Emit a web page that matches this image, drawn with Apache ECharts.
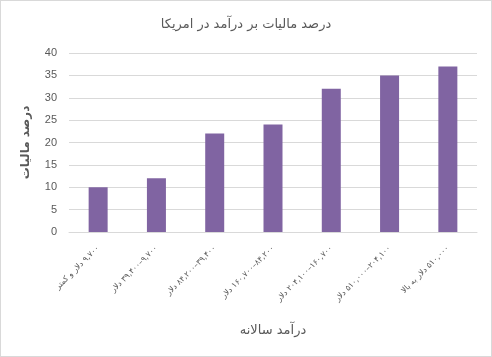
<!DOCTYPE html>
<html><head><meta charset="utf-8">
<script src="https://cdn.jsdelivr.net/npm/echarts@6/dist/echarts.min.js"></script>
<style>html,body{margin:0;padding:0;background:#fff}#c{width:492px;height:357px;box-sizing:border-box;border:1px solid #d9d9d9}</style>
</head><body><div id="c"></div>
<script>
const titleText = 'درصد مالیات بر درآمد در امریکا';
const yAxisName = 'درصد مالیات';
const xAxisName = 'درآمد سالانه';
const categories = [
  '۹,۷۰۰ دلار و کمتر',
  '۹,۷۰۰–۳۹,۴۰۰ دلار',
  '۳۹,۴۰۰–۸۴,۲۰۰ دلار',
  '۸۴,۲۰۰–۱۶۰,۷۰۰ دلار',
  '۱۶۰,۷۰۰–۲۰۴,۱۰۰ دلار',
  '۲۰۴,۱۰۰–۵۱۰,۰۰۰ دلار',
  '۵۱۰,۰۰۰ دلار به بالا'
];
const values = [10, 12, 22, 24, 32, 35, 37];

const rtl = s => '\u202B' + s + '\u202C';

const chart = echarts.init(document.getElementById('c'), null, {renderer: 'canvas'});
chart.setOption({
  animation: false,
  title: {
    text: rtl(titleText), left: 'center', top: 12,
    textStyle: {fontFamily: 'DejaVu Sans', fontSize: 13, fontWeight: 'normal', color: '#595959'}
  },
  grid: {left: 68, right: 14, top: 52, bottom: 124, containLabel: false},
  xAxis: {
    type: 'category', data: categories,
    name: rtl(xAxisName), nameLocation: 'middle', nameGap: 92,
    nameTextStyle: {fontFamily: 'DejaVu Sans', fontSize: 13, color: '#595959'},
    axisLine: {lineStyle: {color: '#d9d9d9'}},
    axisTick: {show: false},
    axisLabel: {rotate: 45, interval: 0, fontFamily: 'DejaVu Sans', fontSize: 8, color: '#595959', margin: 15,
      formatter: v => rtl(v)}
  },
  yAxis: {
    type: 'value', min: 0, max: 40, interval: 5,
    name: rtl(yAxisName), nameLocation: 'middle', nameGap: 37, nameRotate: 90,
    nameTextStyle: {fontFamily: 'DejaVu Sans', fontSize: 12, fontWeight: 'bold', color: '#595959'},
    axisLine: {show: false}, axisTick: {show: false},
    axisLabel: {fontFamily: 'Liberation Sans', fontSize: 11, color: '#595959', margin: 12},
    splitLine: {lineStyle: {color: '#d9d9d9'}}
  },
  series: [{
    type: 'bar', data: values, barWidth: 19,
    itemStyle: {color: '#8064A2'}
  }]
});
</script></body></html>
